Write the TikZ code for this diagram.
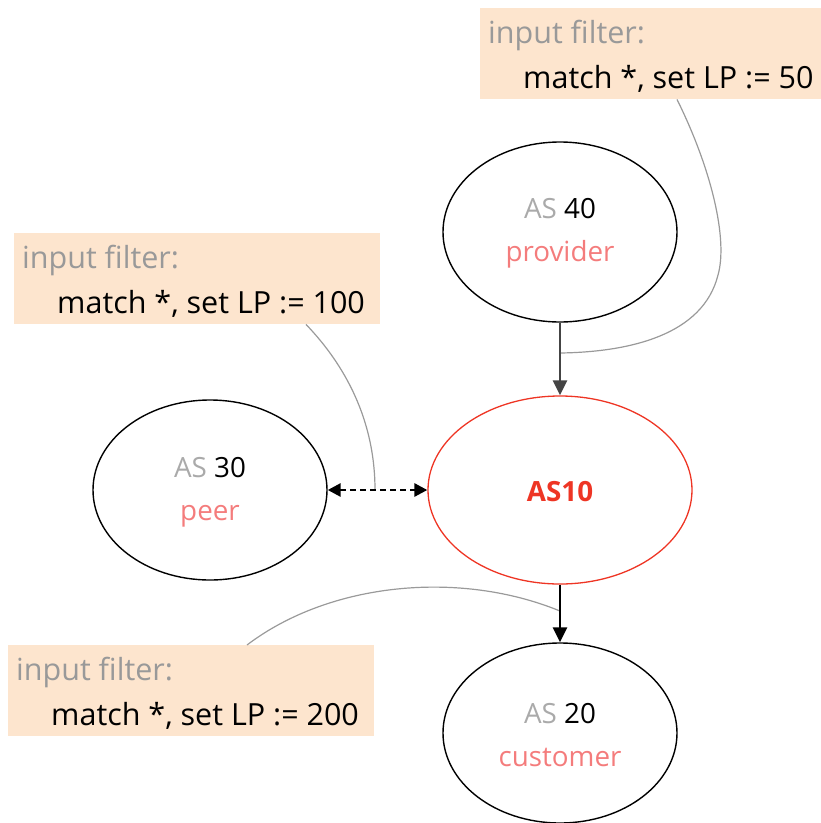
\documentclass[tikz,border=0pt]{standalone}
\usepackage{fontspec}
\setmainfont{Open Sans}
\usetikzlibrary{arrows.meta,shapes.geometric}

\definecolor{filterfill}{HTML}{FDE5CE}
\definecolor{labelgray}{HTML}{999999}
\definecolor{asgray}{HTML}{AAAAAA}
\definecolor{rolered}{HTML}{F47C7C}
\definecolor{homered}{HTML}{EE3524}
\definecolor{notegray}{HTML}{9A9A9A}
\definecolor{darkarrow}{HTML}{444444}

\tikzset{
  asnode/.style={ellipse, draw=black, line width=1.4pt, inner sep=0pt,
                 minimum width=234pt, minimum height=180pt},
  homenode/.style={ellipse, draw=homered, line width=1.3pt, inner sep=0pt,
                 minimum width=264pt, minimum height=188pt},
  astext/.style={anchor=base, inner sep=0pt, font=\fontsize{27.8}{32}\selectfont},
  roletext/.style={astext, text=rolered},
  filterbox/.style={rectangle, fill=filterfill, draw=none, anchor=north west,
                 inner sep=0pt, minimum height=91pt},
  filterhead/.style={anchor=base west, inner sep=0pt, text=labelgray,
                 font=\fontsize{30.5}{36}\selectfont},
  filterrule/.style={anchor=base west, inner sep=0pt, text=black,
                 font=\fontsize{30.5}{36}\selectfont},
  notecurve/.style={draw=notegray, line width=1.2pt},
  linkarrow/.style={line width=2.8pt, -{Triangle[length=15pt,width=14pt]}},
  peerarrow/.style={line width=2.8pt, dash pattern=on 6pt off 4pt,
                 {Triangle[length=13pt,width=13pt]}-{Triangle[length=13pt,width=13pt]}}
}

\begin{document}
\begin{tikzpicture}[x=1pt,y=-1pt]
\useasboundingbox (0,0) rectangle (821,823);

% filter annotation boxes
\node[filterbox, minimum width=341pt] (f1) at (480,8) {};
\node[filterhead] (f1h) at (488,43) {input filter:};
\node[filterrule] (f1r) at (523,88) {match *, set LP := 50};

\node[filterbox, minimum width=366pt] (f2) at (14,233) {};
\node[filterhead] (f2h) at (22,268) {input filter:};
\node[filterrule] (f2r) at (57,313) {match *, set LP := 100};

\node[filterbox, minimum width=366pt] (f3) at (8,645) {};
\node[filterhead] (f3h) at (16,680) {input filter:};
\node[filterrule] (f3r) at (51,725) {match *, set LP := 200};

% autonomous systems
\node[asnode] (as40) at (560,232) {};
\node[astext] (as40n) at (560,218) {\textcolor{asgray}{AS} 40};
\node[roletext] (as40r) at (560,261) {provider};

\node[asnode] (as30) at (210,490) {};
\node[astext] (as30n) at (210,477) {\textcolor{asgray}{AS} 30};
\node[roletext] (as30r) at (210,520) {peer};

\node[homenode] (as10) at (560,490) {};
\node[astext, text=homered, font=\fontsize{27.8}{32}\selectfont\bfseries] (as10n) at (560,501) {AS10};

\node[asnode] (as20) at (560,733) {};
\node[astext] (as20n) at (560,723) {\textcolor{asgray}{AS} 20};
\node[roletext] (as20r) at (560,766) {customer};

% points where each filter applies
\coordinate (p1) at (560,353);
\coordinate (p2) at (375,490);
\coordinate (p3) at (560,611);

% leader curves from filters to links
\draw[notecurve] ([xshift=197pt]f1.south west)
  .. controls (712,170) and (728,240) .. (718,275)
  .. controls (703,335) and (630,352) .. (p1);
\draw[notecurve] ([xshift=292pt]f2.south west)
  .. controls (345,365) and (375,420) .. (p2);
\draw[notecurve] ([xshift=239pt]f3.north west)
  .. controls (330,582) and (460,570) .. (p3);

% links between systems
\draw[linkarrow, draw=darkarrow, fill=darkarrow] (as40) -- (as10);
\draw[linkarrow, draw=black] (as10) -- (as20);
\draw[peerarrow] (as30) -- (as10);
\end{tikzpicture}
\end{document}
